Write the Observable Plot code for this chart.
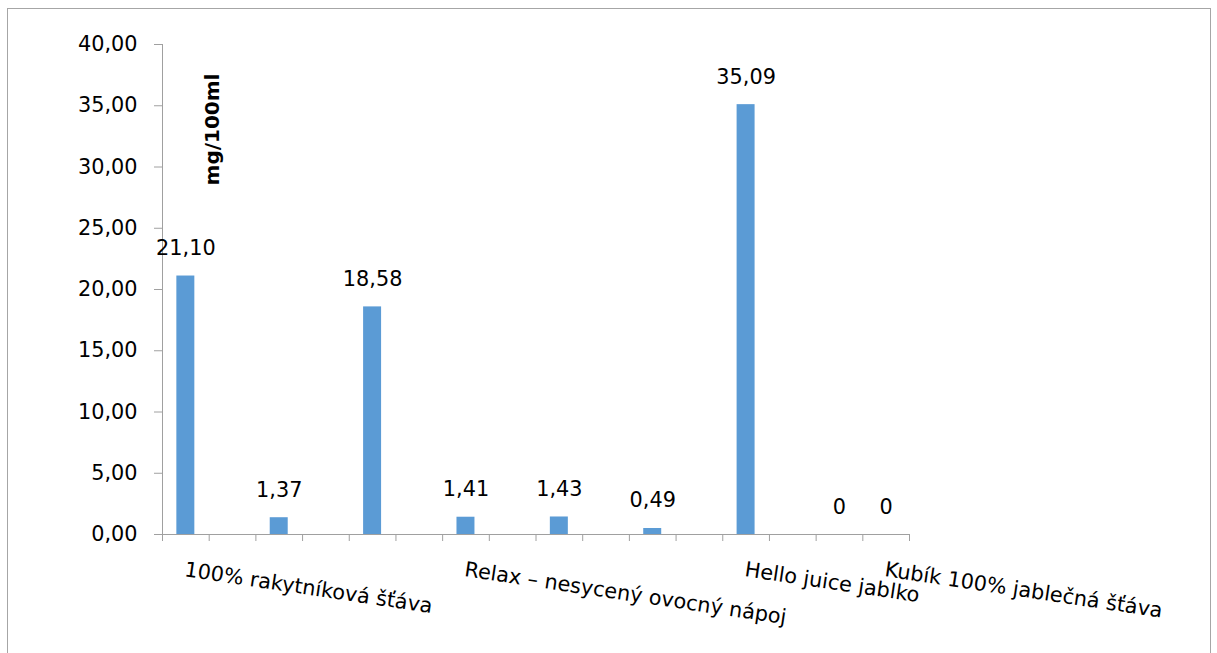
<!DOCTYPE html>
<html>
<head>
<meta charset="utf-8">
<script src="https://cdn.jsdelivr.net/npm/d3@7"></script>
<script src="https://cdn.jsdelivr.net/npm/@observablehq/plot@0.6"></script>
<style>
  html, body { margin: 0; padding: 0; background: #fff; overflow: hidden; }
  #wrap { position: relative; width: 1217px; height: 653px; }
  #border { position: absolute; left: 7px; top: 8px; width: 1202px; height: 700px; border: 1px solid #a6a6a6; pointer-events: none; }
</style>
</head>
<body>
<div id="wrap"><div id="chart"></div><div id="border"></div></div>
<script>
// 16 category slots; Excel shows every 3rd label, hidden names unknown ("")
const categories = [
  "100% rakytníková šťáva", "", "", "", "", "",
  "Relax – nesycený ovocný nápoj", "", "", "", "", "",
  "Hello juice jablko", "", "", "Kubík 100% jablečná šťáva"
];
const values = [21.10, null, 1.37, null, 18.58, null, 1.41, null, 1.43, null, 0.49, null, 35.09, null, 0, 0];
const yTicks = [0, 5, 10, 15, 20, 25, 30, 35, 40];
const unitLabel = "mg/100ml";

const locale = d3.formatLocale({decimal: ",", thousands: " ", grouping: [3], currency: ["", " Kč"]});
const fmt2 = locale.format(".2f");

const rows = categories.map((name, i) => ({i, name, value: values[i]}));
const withValue = rows.filter(d => d.value != null);
const shownLabels = rows.filter(d => d.i % 3 === 0 && d.name);

const gray = "#a0a0a0";
const font = "DejaVu Sans";

const chart = Plot.plot({
  width: 1217,
  height: 653,
  marginLeft: 162,
  marginRight: 308,
  marginTop: 44,
  marginBottom: 119,
  style: {fontFamily: font, fontSize: "20.5px", background: "#fff", color: "#000"},
  x: {type: "linear", domain: [0, categories.length], axis: null},
  y: {domain: [0, 40], axis: null},
  marks: [
    Plot.rectY(withValue, {x: "i", interval: 1, y: "value", fill: "#5B9BD5", insetLeft: 14.35, insetRight: 14.35}),
    Plot.ruleX([0], {stroke: gray}),
    Plot.ruleY([0], {stroke: gray}),
    Plot.axisY({ticks: yTicks, tickSize: 8, tickPadding: 17, stroke: gray, fill: "#000", fontSize: 20.8, tickFormat: fmt2, label: null}),
    Plot.axisX({ticks: d3.range(0, categories.length + 1), tickSize: 7, stroke: gray, tickFormat: () => "", label: null}),
    Plot.text(withValue, {
      x: d => d.i + 0.5, y: "value",
      text: d => d.value === 0 ? "0" : fmt2(d.value),
      dy: -21, lineAnchor: "bottom", fontSize: 20.8, fill: "#000"
    }),
    Plot.text(shownLabels, {
      x: d => d.i + 0.5, frameAnchor: "bottom", dy: 27,
      text: "name", textAnchor: "start", lineAnchor: "top", rotate: 8.5,
      fontSize: 20.8, fill: "#000"
    }),
    Plot.text([unitLabel], {
      frameAnchor: "top-left", dx: 50, dy: 85, text: d => d, rotate: -90,
      textAnchor: "middle", lineAnchor: "middle", fontWeight: "bold", fontSize: 20, fill: "#000"
    })
  ]
});
document.getElementById("chart").appendChild(chart);
</script>
</body>
</html>
